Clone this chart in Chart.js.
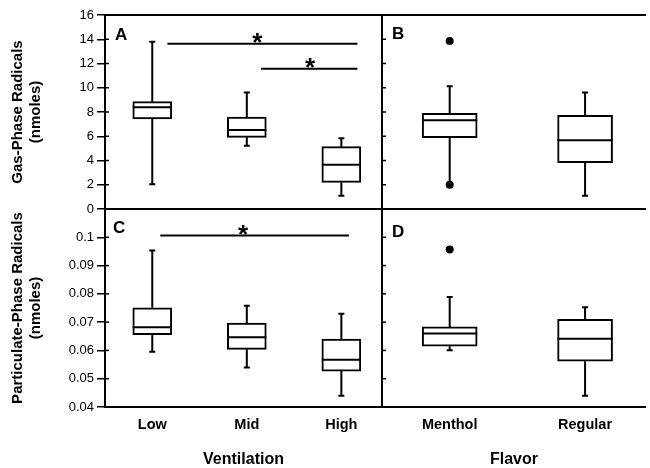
<!DOCTYPE html>
<html>
<head>
<meta charset="utf-8">
<script src="https://cdn.jsdelivr.net/npm/chart.js@4.4.1/dist/chart.umd.min.js"></script>
<style>
  html, body { margin: 0; padding: 0; background: #fff; }
  #wrap { position: relative; width: 650px; height: 468px; }
  #wrap canvas { position: absolute; left: 0; top: 0; }
</style>
</head>
<body>
<div id="wrap">
  <canvas id="panelA" width="650" height="468"></canvas>
  <canvas id="panelB" width="650" height="468"></canvas>
  <canvas id="panelC" width="650" height="468"></canvas>
  <canvas id="panelD" width="650" height="468"></canvas>
</div>
<script>
const ventilation = ['Low', 'Mid', 'High'];
const flavor = ['Menthol', 'Regular'];

// box stats per category: [min, q1, median, q3, max]
const gasByVentilation = [
    [2.05, 7.42, 8.39, 8.85, 13.8],
    [5.22, 5.91, 6.52, 7.59, 9.6],
    [1.1, 2.2, 3.65, 5.14, 5.83]
];
const gasByFlavor = [
    [2.0, 5.88, 7.31, 7.89, 10.12],
    [1.1, 3.82, 5.66, 7.72, 9.6]
];
const partByVentilation = [
    [0.0595, 0.0656, 0.0682, 0.0751, 0.0953],
    [0.054, 0.0604, 0.0647, 0.0697, 0.0758],
    [0.044, 0.0527, 0.0567, 0.064, 0.073]
];
const partByFlavor = [
    [0.0601, 0.0615, 0.066, 0.0683, 0.0789],
    [0.044, 0.0562, 0.0641, 0.071, 0.0753]
];

// outliers per category
const gasFlavorOutliers = [[13.85, 2.0], []];
const partFlavorOutliers = [[0.0957], []];

// significance bars: [from, to, level, asterisk x]
const gasVentSig = [[1.16, 3.17, 13.63, 2.11], [2.15, 3.17, 11.57, 2.67]];
const partVentSig = [[1.085, 3.08, 0.1006, 1.96]];

// y tick labels
const gasTicks = [0, 2, 4, 6, 8, 10, 12, 14, 16];
const partTicks = [0.04, 0.05, 0.06, 0.07, 0.08, 0.09, 0.1];

const FONT = "'Liberation Sans', Arial, Helvetica, sans-serif";

function boxPlugin(p) {
    return {
        id: 'boxParts',
        beforeDatasetsDraw(chart) {
            // whiskers
            const ctx = chart.ctx, xs = chart.scales.x, ys = chart.scales.y;
            ctx.save();
            ctx.strokeStyle = '#000';
            ctx.lineWidth = 2;
            p.boxes.forEach((b, i) => {
                const x = xs.getPixelForValue(i + 1);
                ctx.beginPath();
                ctx.moveTo(x, ys.getPixelForValue(b[3]));
                ctx.lineTo(x, ys.getPixelForValue(b[4]));
                ctx.moveTo(x - 3, ys.getPixelForValue(b[4]));
                ctx.lineTo(x + 3, ys.getPixelForValue(b[4]));
                ctx.moveTo(x, ys.getPixelForValue(b[1]));
                ctx.lineTo(x, ys.getPixelForValue(b[0]));
                ctx.moveTo(x - 3, ys.getPixelForValue(b[0]));
                ctx.lineTo(x + 3, ys.getPixelForValue(b[0]));
                ctx.stroke();
            });
            ctx.restore();
        },
        afterDatasetsDraw(chart) {
            const ctx = chart.ctx, xs = chart.scales.x, ys = chart.scales.y;
            const area = chart.chartArea;
            ctx.save();
            ctx.strokeStyle = '#000';
            ctx.fillStyle = '#000';
            ctx.lineWidth = 2;
            // medians
            p.boxes.forEach((b, i) => {
                const x = xs.getPixelForValue(i + 1);
                const y = ys.getPixelForValue(b[2]);
                ctx.beginPath();
                ctx.moveTo(x - p.boxWidth / 2, y);
                ctx.lineTo(x + p.boxWidth / 2, y);
                ctx.stroke();
            });
            // asterisks
            ctx.font = 'bold 26px ' + FONT;
            ctx.textAlign = 'center';
            ctx.textBaseline = 'alphabetic';
            (p.sig || []).forEach(s => {
                ctx.fillText('*', xs.getPixelForValue(s[3]), ys.getPixelForValue(s[2]) + 7);
            });
            // panel letter
            ctx.font = 'bold 17px ' + FONT;
            ctx.textAlign = 'left';
            ctx.textBaseline = 'middle';
            ctx.fillText(p.letter, area.left + p.letterPos[0], area.top + p.letterPos[1]);
            // inner ticks
            ctx.lineWidth = 1.5;
            p.ticks.forEach(v => {
                const y = ys.getPixelForValue(v);
                ctx.beginPath();
                ctx.moveTo(area.left, y);
                ctx.lineTo(area.left + 4, y);
                ctx.stroke();
            });
            // frame
            ctx.lineWidth = 2;
            ctx.beginPath();
            ctx.moveTo(area.left, area.top);
            ctx.lineTo(area.right, area.top);
            ctx.moveTo(area.left, area.bottom);
            ctx.lineTo(area.right, area.bottom);
            ctx.moveTo(area.left, area.top - 1);
            ctx.lineTo(area.left, area.bottom + 1);
            if (p.rightEdge) {
                ctx.moveTo(area.right, area.top - 1);
                ctx.lineTo(area.right, area.bottom + 1);
            }
            ctx.stroke();
            ctx.restore();
        }
    };
}

function makePanel(id, p) {
    const datasets = [{
        type: 'bar',
        data: p.boxes.map((b, i) => ({ x: i + 1, y: [b[1], b[3]] })),
        backgroundColor: '#fff',
        borderColor: '#000',
        borderWidth: 2,
        borderSkipped: false,
        barThickness: p.boxWidth
    }];
    if (p.outliers) {
        const pts = [];
        p.outliers.forEach((list, i) => list.forEach(v => pts.push({ x: i + 1, y: v })));
        datasets.push({
            type: 'scatter',
            data: pts,
            pointRadius: 4,
            backgroundColor: '#000',
            borderWidth: 0
        });
    }
    (p.sig || []).forEach(s => {
        datasets.push({
            type: 'line',
            data: [{ x: s[0], y: s[2] }, { x: s[1], y: s[2] }],
            borderColor: '#000',
            borderWidth: 2,
            pointRadius: 0,
            fill: false
        });
    });

    return new Chart(document.getElementById(id), {
        type: 'bar',
        data: { datasets: datasets },
        options: {
            responsive: false,
            animation: false,
            layout: { padding: p.padding },
            plugins: { legend: { display: false }, tooltip: { enabled: false } },
            scales: {
                x: {
                    type: 'linear',
                    display: p.showX,
                    offset: false,
                    min: 0.5,
                    max: p.xMax,
                    afterBuildTicks: s => { s.ticks = p.cats.map((c, i) => ({ value: i + 1 })); },
                    afterFit: s => { s.height = p.showX ? 61 : 0; },
                    grid: { display: false, drawTicks: false },
                    border: { display: false },
                    ticks: {
                        autoSkip: false,
                        padding: 9,
                        color: '#000',
                        font: { family: FONT, size: 14.5, weight: 'bold' },
                        callback: v => p.cats[v - 1]
                    },
                    title: {
                        display: true,
                        text: p.xTitle,
                        color: '#000',
                        padding: { top: 0, bottom: 0 },
                        font: { family: FONT, size: 16, weight: 'bold', lineHeight: 1 }
                    }
                },
                y: {
                    type: 'linear',
                    display: p.showY,
                    min: p.yMin,
                    max: p.yMax,
                    afterBuildTicks: s => { s.ticks = p.ticks.map(v => ({ value: v })); },
                    afterFit: s => { s.width = p.showY ? 105 : 0; },
                    grid: {
                        display: true,
                        drawOnChartArea: false,
                        drawTicks: true,
                        tickLength: 8,
                        color: '#000',
                        lineWidth: 1.5
                    },
                    border: { display: false },
                    ticks: {
                        autoSkip: false,
                        padding: 3,
                        color: '#000',
                        font: { family: FONT, size: 13 },
                        callback: v => String(+v.toFixed(2))
                    },
                    title: {
                        display: true,
                        text: p.yTitle,
                        color: '#000',
                        padding: { top: 9, bottom: 0 },
                        font: { family: FONT, size: 15, weight: 'bold', lineHeight: 1.2 }
                    }
                }
            }
        },
        plugins: [boxPlugin(p)]
    });
}

makePanel('panelA', {
    cats: ventilation, boxes: gasByVentilation, sig: gasVentSig, ticks: gasTicks,
    yMin: 0, yMax: 16, xMax: 3.43, boxWidth: 39, letter: 'A', letterPos: [10, 20],
    showX: false, showY: true, rightEdge: true,
    yTitle: ['Gas-Phase Radicals', '(nmoles)'], xTitle: '',
    padding: { left: 0, top: 15, right: 268, bottom: 259 }
});
makePanel('panelB', {
    cats: flavor, boxes: gasByFlavor, outliers: gasFlavorOutliers, ticks: gasTicks,
    yMin: 0, yMax: 16, xMax: 2.45, boxWidth: 55, letter: 'B', letterPos: [10, 19],
    showX: false, showY: false, rightEdge: false,
    yTitle: '', xTitle: '',
    padding: { left: 382, top: 15, right: 0, bottom: 259 }
});
makePanel('panelC', {
    cats: ventilation, boxes: partByVentilation, sig: partVentSig, ticks: partTicks,
    yMin: 0.04, yMax: 0.11, xMax: 3.43, boxWidth: 39, letter: 'C', letterPos: [8, 19],
    showX: true, showY: true, rightEdge: true,
    yTitle: ['Particulate-Phase Radicals', '(nmoles)'], xTitle: 'Ventilation',
    padding: { left: 0, top: 209, right: 268, bottom: 0 }
});
makePanel('panelD', {
    cats: flavor, boxes: partByFlavor, outliers: partFlavorOutliers, ticks: partTicks,
    yMin: 0.04, yMax: 0.11, xMax: 2.45, boxWidth: 55, letter: 'D', letterPos: [10, 23],
    showX: true, showY: false, rightEdge: false,
    yTitle: '', xTitle: 'Flavor',
    padding: { left: 382, top: 209, right: 0, bottom: 0 }
});
</script>
</body>
</html>
